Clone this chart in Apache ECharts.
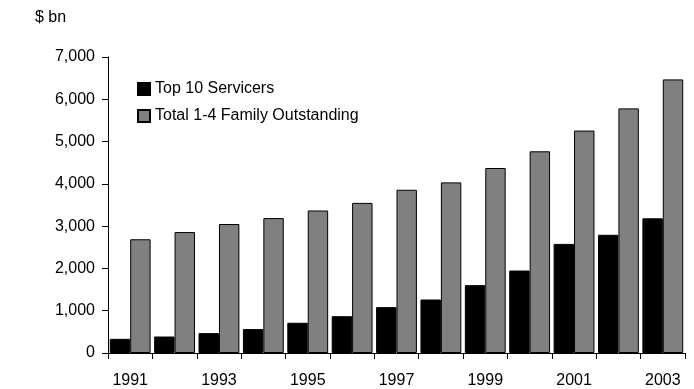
<!DOCTYPE html>
<html>
<head>
<meta charset="utf-8">
<script src="https://cdn.jsdelivr.net/npm/echarts@6/dist/echarts.min.js"></script>
<style>
  html, body { margin: 0; padding: 0; background: #fff; }
  #chart { width: 694px; height: 389px; }
</style>
</head>
<body>
<div id="chart"></div>
<script>
const years = ['1991', '1992', '1993', '1994', '1995', '1996', '1997', '1998', '1999', '2000', '2001', '2002', '2003'];
const top10Servicers = [335, 390, 470, 565, 715, 870, 1085, 1265, 1605, 1950, 2580, 2795, 3185];
const totalOutstanding = [2690, 2860, 3050, 3190, 3370, 3550, 3860, 4035, 4375, 4770, 5260, 5785, 6470];

const font = 'Liberation Sans, Arial, sans-serif';
const chart = echarts.init(document.getElementById('chart'));

chart.setOption({
  animation: false,
  backgroundColor: '#fff',
  textStyle: { fontFamily: font },
  title: {
    text: '$ bn',
    left: 35,
    top: 10,
    padding: 0,
    textStyle: { fontSize: 16, fontWeight: 'normal', color: '#000', fontFamily: font }
  },
  legend: {
    orient: 'vertical',
    left: 137,
    top: 81,
    padding: 0,
    icon: 'rect',
    itemWidth: 12,
    itemHeight: 12,
    itemGap: 11,
    textStyle: { fontSize: 16, color: '#000', fontFamily: font },
    data: ['Top 10 Servicers', 'Total 1-4 Family Outstanding']
  },
  grid: { left: 108, right: 9, top: 57, bottom: 35.5 },
  xAxis: {
    type: 'category',
    data: years,
    axisLine: { lineStyle: { color: '#000', width: 1 } },
    axisTick: { show: true, length: 6, interval: 0, lineStyle: { color: '#000' } },
    axisLabel: { interval: 1, color: '#000', fontSize: 16, margin: 20, fontFamily: font }
  },
  yAxis: {
    type: 'value',
    min: 0,
    max: 7000,
    interval: 1000,
    splitLine: { show: false },
    axisLine: { show: true, lineStyle: { color: '#000', width: 1 } },
    axisTick: { show: true, length: 6, lineStyle: { color: '#000' } },
    axisLabel: {
      color: '#000',
      fontSize: 16,
      margin: 13,
      fontFamily: font,
      formatter: v => v.toLocaleString('en-US')
    }
  },
  series: [
    {
      name: 'Top 10 Servicers',
      type: 'bar',
      data: top10Servicers,
      barGap: '0%',
      barCategoryGap: '8%',
      itemStyle: { color: '#000', borderColor: '#000', borderWidth: 1 }
    },
    {
      name: 'Total 1-4 Family Outstanding',
      type: 'bar',
      data: totalOutstanding,
      barGap: '0%',
      barCategoryGap: '8%',
      itemStyle: { color: '#808080', borderColor: '#000', borderWidth: 1 }
    }
  ]
});
</script>
</body>
</html>
